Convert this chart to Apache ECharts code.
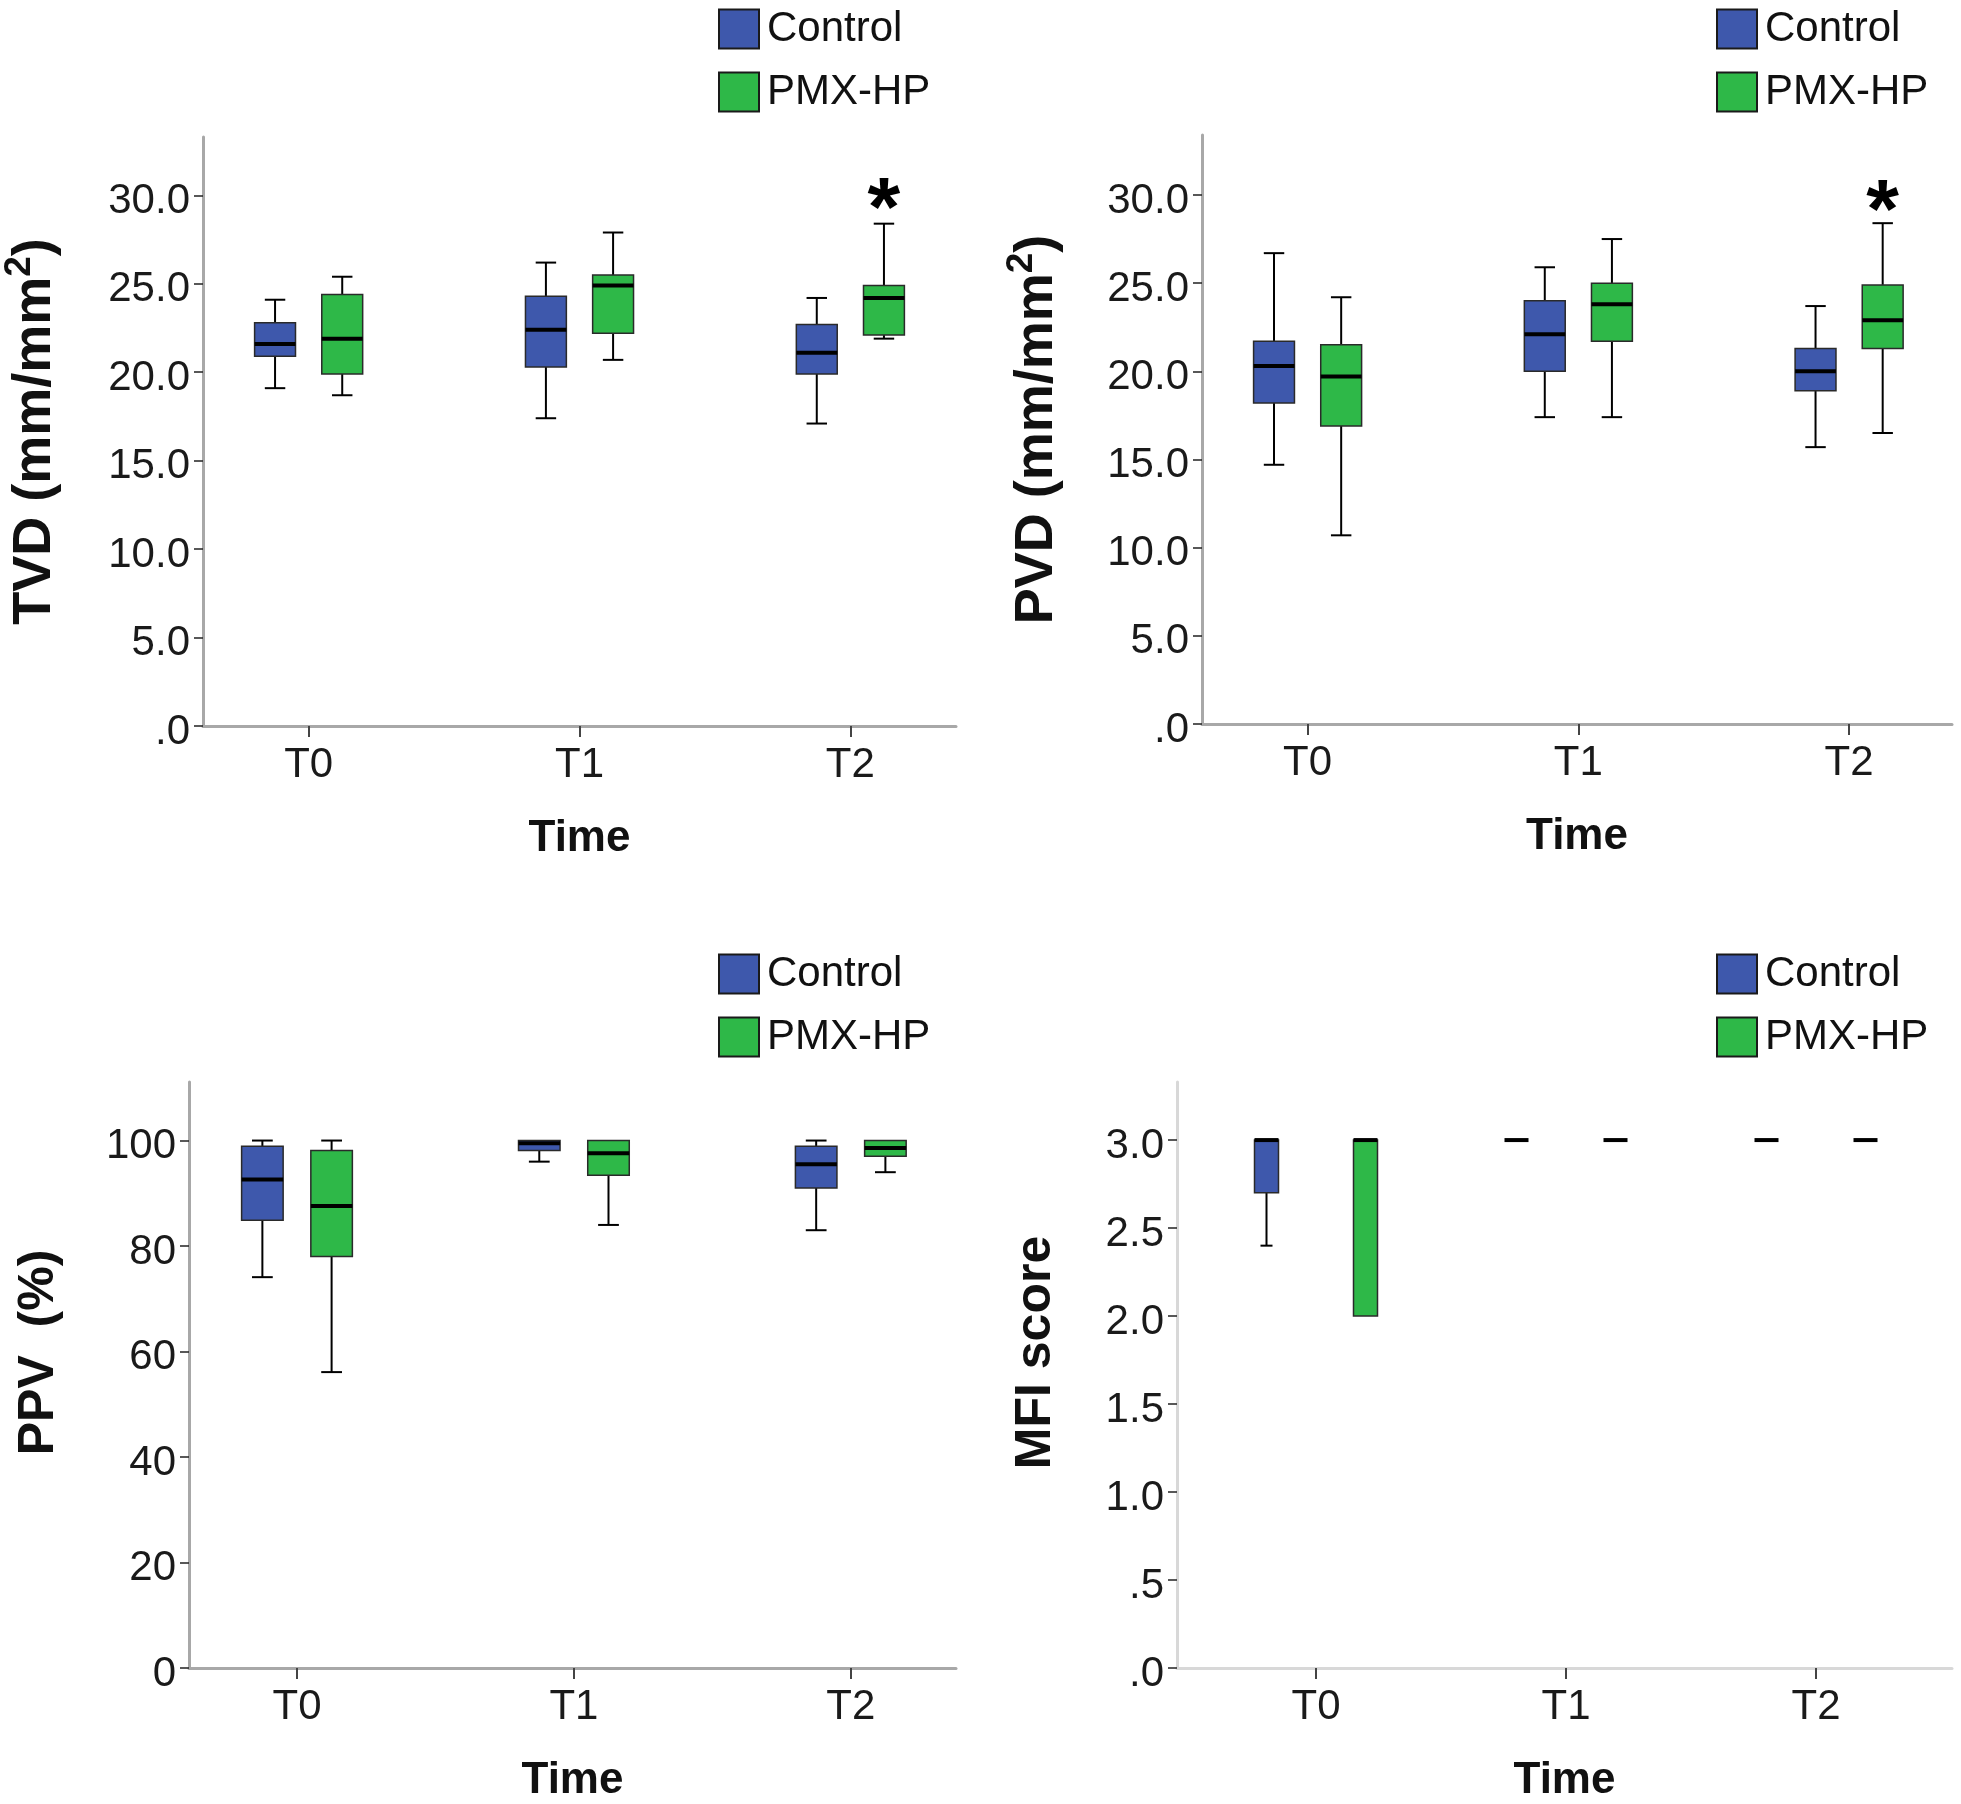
<!DOCTYPE html>
<html><head><meta charset="utf-8">
<script src="https://cdn.jsdelivr.net/npm/echarts@6/dist/echarts.min.js"></script>
<style>html,body{margin:0;padding:0;background:#fff}#c{width:1961px;height:1804px}</style>
</head><body><div id="c"></div>
<script>
// ---------- data ----------
const timePoints = ['T0', 'T1', 'T2'];
const groupNames = ['Control', 'PMX-HP'];
// each row: [lower whisker, Q1, median, Q3, upper whisker] for T0, T1, T2
const tvdControl = [[19.1, 20.9, 21.6, 22.8, 24.1], [17.4, 20.3, 22.4, 24.3, 26.2], [17.1, 19.9, 21.1, 22.7, 24.2]];
const tvdPmx     = [[18.7, 19.9, 21.9, 24.4, 25.4], [20.7, 22.2, 24.9, 25.5, 27.9], [21.9, 22.1, 24.2, 24.9, 28.4]];
const pvdControl = [[14.7, 18.2, 20.3, 21.7, 26.7], [17.4, 20.0, 22.1, 24.0, 25.9], [15.7, 18.9, 20.0, 21.3, 23.7]];
const pvdPmx     = [[10.7, 16.9, 19.7, 21.5, 24.2], [17.4, 21.7, 23.8, 25.0, 27.5], [16.5, 21.3, 22.9, 24.9, 28.4]];
const ppvControl = [[74.1, 84.9, 92.6, 98.9, 100], [96.0, 98.1, 99.5, 100, 100], [83.0, 91.0, 95.5, 98.9, 100]];
const ppvPmx     = [[56.1, 78.0, 87.6, 98.1, 100], [84.0, 93.4, 97.6, 100, 100], [94.0, 97.0, 98.6, 100, 100]];
const mfiControl = [[2.4, 2.7, 3.0, 3.0, 3.0], [3.0, 3.0, 3.0, 3.0, 3.0], [3.0, 3.0, 3.0, 3.0, 3.0]];
const mfiPmx     = [[2.0, 2.0, 3.0, 3.0, 3.0], [3.0, 3.0, 3.0, 3.0, 3.0], [3.0, 3.0, 3.0, 3.0, 3.0]];
// significance asterisks (PMX-HP): [time index, value]
const tvdSignif = [[2, 29.9]];
const pvdSignif = [[2, 29.8]];
// tick values
const vdTicks  = [0, 5, 10, 15, 20, 25, 30];
const ppvTicks = [0, 20, 40, 60, 80, 100];
const mfiTicks = [0, 0.5, 1, 1.5, 2, 2.5, 3];
const timeTicks = [0, 1, 2];

// ---------- style ----------
const COLORS = ['#3E58AC', '#2EB848'];
const FONT = 'Liberation Sans';
const fmtVD = v => v === 0 ? '.0' : v.toFixed(1);
const fmtPPV = v => String(v);
const fmtMFI = v => v < 1 ? v.toFixed(1).replace(/^0/, '') : v.toFixed(1);

const panels = [
  { grid: {left: 202, right: 1005, top: 137, bottom: 1078}, x: [-0.39, 2.39], y: [0, 33.3], ticks: vdTicks, fmt: fmtVD,
    title: 'TVD (mm/mm{s|2})', fs: 54, nameGap: 134, lh: 68, shift: 0, ctrl: tvdControl, pmx: tvdPmx, sig: tvdSignif, off: 0.124, w: 0.151,
    axisColor: '#a8a8a8', legend: {left: 718, top: 8} },
  { grid: {left: 1202, right: 9, top: 135, bottom: 1080}, x: [-0.39, 2.38], y: [0, 33.4], ticks: vdTicks, fmt: fmtVD,
    title: 'PVD (mm/mm{s|2})', fs: 54, nameGap: 131, lh: 68, shift: 0, ctrl: pvdControl, pmx: pvdPmx, sig: pvdSignif, off: 0.124, w: 0.151,
    axisColor: '#a8a8a8', legend: {left: 1716, top: 8} },
  { grid: {left: 189, right: 1005, top: 1082, bottom: 131}, x: [-0.39, 2.38], y: [0, 111.1], ticks: ppvTicks, fmt: fmtPPV,
    title: 'PPV  (%)', fs: 50, nameGap: 125, lh: 50, shift: 45, ctrl: ppvControl, pmx: ppvPmx, sig: [], off: 0.125, w: 0.15,
    axisColor: '#a8a8a8', legend: {left: 718, top: 953} },
  { grid: {left: 1177, right: 9, top: 1082, bottom: 131}, x: [-0.556, 2.544], y: [0, 3.33], ticks: mfiTicks, fmt: fmtMFI,
    title: 'MFI score', fs: 50, nameGap: 116, lh: 50, shift: 45, ctrl: mfiControl, pmx: mfiPmx, sig: [], off: 0.198, w: 0.096,
    axisColor: '#d8d8d8', legend: {left: 1716, top: 953} }
];

function boxRender(off, w, sign) {
  return function (params, api) {
    const i = api.value(0);
    const lo = api.value(1), q1 = api.value(2), med = api.value(3), q3 = api.value(4), hi = api.value(5);
    const xc = i + sign * off;
    const xL = api.coord([xc - w / 2, 0])[0];
    const xR = api.coord([xc + w / 2, 0])[0];
    const xC = api.coord([xc, 0])[0];
    const y = v => api.coord([xc, v])[1];
    const cap = (xR - xL) / 4;
    const wl = {stroke: '#000', lineWidth: 2};
    const ch = [];
    if (hi > q3) {
      ch.push({type: 'line', shape: {x1: xC, y1: y(q3), x2: xC, y2: y(hi)}, style: wl});
      ch.push({type: 'line', shape: {x1: xC - cap, y1: y(hi), x2: xC + cap, y2: y(hi)}, style: wl});
    }
    if (lo < q1) {
      ch.push({type: 'line', shape: {x1: xC, y1: y(q1), x2: xC, y2: y(lo)}, style: wl});
      ch.push({type: 'line', shape: {x1: xC - cap, y1: y(lo), x2: xC + cap, y2: y(lo)}, style: wl});
    }
    if (q3 > q1) {
      ch.push({type: 'rect', shape: {x: xL, y: y(q3), width: xR - xL, height: y(q1) - y(q3)},
        style: {fill: api.visual('color'), stroke: '#2a2a2a', lineWidth: 1.5}});
    }
    ch.push({type: 'line', shape: {x1: xL, y1: y(med), x2: xR, y2: y(med)}, style: {stroke: '#000', lineWidth: 4}});
    return {type: 'group', children: ch};
  };
}

function sigRender(off) {
  return function (params, api) {
    const p = api.coord([api.value(0) + off, api.value(1)]);
    return {type: 'text', x: p[0], y: p[1] + 16,
      style: {text: '*', fontSize: 84, fontWeight: 'bold', fontFamily: FONT, fill: '#000', align: 'center', verticalAlign: 'middle'}};
  };
}

const option = {
  animation: false,
  backgroundColor: '#fff',
  textStyle: {fontFamily: FONT},
  grid: [], xAxis: [], yAxis: [], series: [], legend: []
};

panels.forEach((p, k) => {
  option.grid.push(Object.assign({containLabel: false}, p.grid));
  option.xAxis.push({
    type: 'value', gridIndex: k, min: p.x[0], max: p.x[1],
    name: 'Time', nameLocation: 'middle', nameGap: 91,
    nameTextStyle: {fontSize: 44, fontWeight: 'bold', color: '#111', fontFamily: FONT},
    axisLine: {show: true, onZero: false, lineStyle: {color: p.axisColor, width: 3}},
    axisTick: {show: true, customValues: timeTicks, length: 11, lineStyle: {color: '#444', width: 2}},
    axisLabel: {customValues: timeTicks, formatter: v => timePoints[Math.round(v)], fontSize: 42, color: '#1a1a1a', margin: 18, fontFamily: FONT},
    splitLine: {show: false}
  });
  option.yAxis.push({
    type: 'value', gridIndex: k, min: p.y[0], max: p.y[1],
    name: p.title, nameLocation: 'middle', nameGap: p.nameGap,
    nameTextStyle: {fontSize: p.fs, fontWeight: 'bold', color: '#111', fontFamily: FONT, lineHeight: p.lh,
      padding: [0, 0, 0, p.shift],
      rich: {s: {fontSize: Math.round(p.fs * 0.68), fontWeight: 'bold', color: '#111', fontFamily: FONT, lineHeight: 34, verticalAlign: 'top'}}},
    axisLine: {show: true, onZero: false, lineStyle: {color: p.axisColor, width: 3}},
    axisTick: {show: true, customValues: p.ticks, length: 9, lineStyle: {color: '#222', width: 1.5}},
    axisLabel: {customValues: p.ticks, formatter: p.fmt, fontSize: 42, color: '#1a1a1a', margin: 13,
      verticalAlign: 'top', lineHeight: 12, fontFamily: FONT},
    splitLine: {show: false}
  });
  [p.ctrl, p.pmx].forEach((rows, g) => {
    option.series.push({
      type: 'custom', name: groupNames[g], xAxisIndex: k, yAxisIndex: k,
      itemStyle: {color: COLORS[g]},
      renderItem: boxRender(p.off, p.w, g === 0 ? -1 : 1),
      encode: {x: 0, y: [1, 2, 3, 4, 5]},
      data: rows.map((r, i) => [i].concat(r)),
      silent: true
    });
  });
  if (p.sig.length) {
    option.series.push({
      type: 'custom', name: 'sig' + k, xAxisIndex: k, yAxisIndex: k,
      renderItem: sigRender(p.off), encode: {x: 0, y: 1}, data: p.sig, silent: true
    });
  }
  option.legend.push({
    left: p.legend.left, top: p.legend.top, orient: 'vertical', padding: 0,
    itemWidth: 40, itemHeight: 39, itemGap: 21, selectedMode: false,
    textStyle: {fontSize: 42, color: '#111', fontFamily: FONT, padding: [0, 0, 0, 3]},
    data: groupNames.map((n, g) => ({name: n, icon: 'rect',
      itemStyle: {color: COLORS[g], borderColor: '#1a1a1a', borderWidth: 2}}))
  });
});

const chart = echarts.init(document.getElementById('c'), null, {renderer: 'canvas'});
chart.setOption(option);
</script>
</body></html>
